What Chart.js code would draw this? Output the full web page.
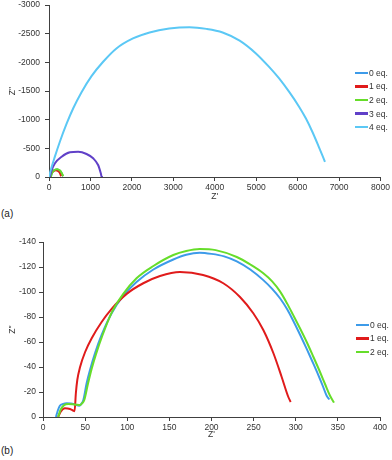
<!DOCTYPE html>
<html>
<head>
<meta charset="utf-8">
<script src="https://cdn.jsdelivr.net/npm/chart.js@4.4.0/dist/chart.umd.min.js"></script>
<style>
  body { margin: 0; background: #fff; font-family: "Liberation Sans", Arial, sans-serif; }
  #wrap { position: relative; width: 392px; height: 460px; overflow: hidden; }
  .box { position: absolute; left: 0; width: 392px; }
  .legend { position: absolute; font-size: 8.5px; color: #333; }
  .legend div { height: 13.6px; display: flex; align-items: center; white-space: nowrap; }
  .legend .ln { display: inline-block; width: 13px; height: 2.5px; margin-right: 1px; }
  .panel { position: absolute; left: 1px; font-size: 10px; color: #222; }
</style>
</head>
<body>
<div id="wrap">
  <div class="box" style="top:-5px;height:207px"><canvas id="chartA"></canvas></div>
  <div class="legend" id="legendA" style="left:355px;top:66px"></div>
  <div class="panel" style="top:208px">(a)</div>
  <div class="box" style="top:228px;height:212px"><canvas id="chartB"></canvas></div>
  <div class="legend" id="legendB" style="left:356px;top:318px"></div>
  <div class="panel" style="top:445px">(b)</div>
</div>
<script>
// series labels and colours
const seriesNames = ["0 eq.", "1 eq.", "2 eq.", "3 eq.", "4 eq."];
const seriesColors = ["#3d9be9", "#e01b1b", "#66dd2a", "#6040c8", "#5bc8f5"];

// Z' / Z'' values
const eq0X = [15.4, 17.5, 20, 24, 28, 33, 38, 43, 45.5, 47.9, 51.8, 55.8, 61.7, 69.6, 81.5, 95.3, 111, 131, 154.7, 170, 186, 200, 215, 230, 246, 261.5, 272, 281.3, 290, 297, 305, 313, 320, 326.8, 332, 336.7, 339.9];
const eq0Y = [0, -5, -9, -10.5, -11, -10.8, -10, -9, -10.5, -13.6, -27, -37.6, -51, -65.6, -83, -97, -108, -118, -126, -129.8, -131.4, -130.5, -128.5, -124.5, -118, -109.5, -102.5, -95, -86, -77, -66, -54.5, -44, -33.5, -25, -17, -14];

const eq1X = [18, 21, 26, 32, 36, 37.5, 39, 40.7, 44, 50, 57.8, 69.6, 81.5, 99.3, 119, 138.9, 162.6, 190, 214, 233.8, 249.6, 261.5, 273.5, 283.3, 291.2, 294];
const eq1Y = [0, -4.3, -7, -6.4, -5, -4.6, -19, -29.6, -40, -52, -63, -76, -86.5, -98.5, -107, -112.8, -116, -113.6, -107, -96, -83, -69.6, -51, -32, -16, -12];

const eq2X = [18, 21, 25, 30, 35, 40, 44, 46.5, 49, 53.5, 57.7, 63, 70.4, 81.5, 95.3, 111, 131, 154.7, 170, 186, 205, 230, 246, 261.5, 272, 281.3, 290, 297, 305, 313, 321, 328.8, 335, 340.7, 345.4];
const eq2Y = [0, -6, -9.5, -10.4, -10.2, -9.8, -9.6, -11, -13.6, -27, -38.5, -50.5, -65, -83.5, -98.5, -111, -120.8, -129.6, -132.8, -134.4, -133.5, -128, -122, -115, -108.5, -100.5, -90.5, -81.5, -71, -60, -48, -36, -26, -17, -11.5];

const eq3X = [20, 60, 144, 305, 505, 705, 906, 1065, 1185, 1250, 1270, 1300];
const eq3Y = [0, -110, -239, -354, -431, -441, -401, -326, -209, -64, -5, 0];

const eq4X = [0, 30, 144, 264, 425, 585, 785, 1026, 1306, 1627, 2026, 2428, 2900, 3389, 3800, 4190, 4600, 4993, 5300, 5553, 5800, 6034, 6200, 6354, 6500, 6659];
const eq4Y = [0, -90, -360, -620, -930, -1200, -1480, -1760, -2011, -2244, -2419, -2523, -2590, -2613, -2585, -2523, -2380, -2157, -1930, -1720, -1480, -1227, -1020, -790, -545, -266];

// axis ticks
const ticksAX = [0, 1000, 2000, 3000, 4000, 5000, 6000, 7000, 8000];
const ticksAY = [-3000, -2500, -2000, -1500, -1000, -500, 0];
const ticksBX = [0, 50, 100, 150, 200, 250, 300, 350, 400];
const ticksBY = [-140, -120, -100, -80, -60, -40, -20, 0];

const allX = [eq0X, eq1X, eq2X, eq3X, eq4X];
const allY = [eq0Y, eq1Y, eq2Y, eq3Y, eq4Y];

const FONT = { family: "'Liberation Sans', Arial, sans-serif", size: 8.5 };
const AXIS = "#404040";

function buildDatasets(count) {
  const sets = [];
  for (let i = 0; i < count; i++) {
    sets.push({
      label: seriesNames[i],
      data: allX[i].map((x, k) => ({ x, y: allY[i][k] })),
      borderColor: seriesColors[i],
      backgroundColor: seriesColors[i],
      borderWidth: 2,
      pointRadius: 0,
      cubicInterpolationMode: "monotone",
      order: 10 - i
    });
  }
  return sets;
}

function buildLegend(id, count) {
  const el = document.getElementById(id);
  for (let i = 0; i < count; i++) {
    const row = document.createElement("div");
    row.innerHTML = `<span class="ln" style="background:${seriesColors[i]}"></span>${seriesNames[i]}`;
    el.appendChild(row);
  }
}

function axisOpts(ticks, title, extra) {
  return Object.assign({
    type: "linear",
    min: ticks[0] < 0 ? ticks[0] : 0,
    max: ticks[ticks.length - 1] > 0 ? ticks[ticks.length - 1] : 0,
    afterBuildTicks: (scale) => { scale.ticks = ticks.map(v => ({ value: v })); },
    ticks: { font: FONT, color: "#333", padding: 2, callback: (v) => String(v) },
    grid: { display: true, drawOnChartArea: false, drawTicks: true, tickLength: 4, color: AXIS },
    border: { display: true, color: AXIS, width: 1 },
    title: { display: true, text: title, font: FONT, color: "#333", padding: 0 }
  }, extra || {});
}

function makeChart(id, count, tx, ty, pad, yWidth, xHeight, yPad) {
  const y = axisOpts(ty, "Z''", { reverse: true, afterFit: (s) => { s.width = yWidth; } });
  y.ticks.padding = yPad;
  const x = axisOpts(tx, "Z'", { afterFit: (s) => { s.height = xHeight; } });
  return new Chart(document.getElementById(id), {
    type: "line",
    data: { datasets: buildDatasets(count) },
    options: {
      responsive: true,
      maintainAspectRatio: false,
      animation: false,
      layout: { padding: pad },
      plugins: { legend: { display: false }, tooltip: { enabled: false } },
      scales: { x, y }
    }
  });
}

makeChart("chartA", 5, ticksAX, ticksAY, { left: 8, right: 10, top: 0, bottom: 0 }, 41, 25, 5);
makeChart("chartB", 3, ticksBX, ticksBY, { left: 8, right: 12, top: 14, bottom: 0 }, 35, 23, 3);
buildLegend("legendA", 5);
buildLegend("legendB", 3);
</script>
</body>
</html>
